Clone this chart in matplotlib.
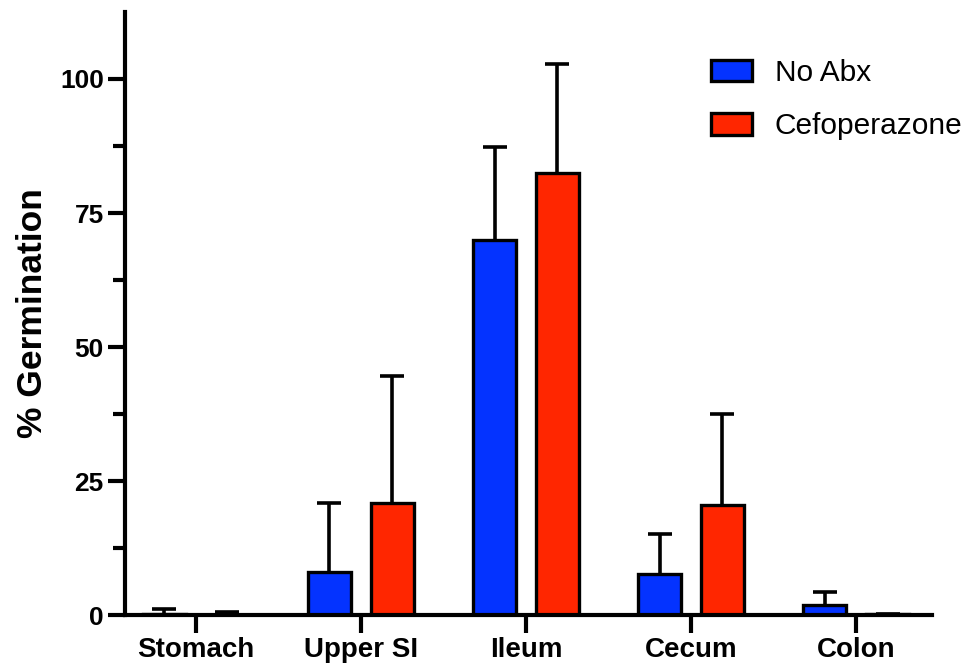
import numpy as np
import matplotlib.pyplot as plt

plt.rcParams['font.family'] = ['Liberation Sans', 'DejaVu Sans']

regioes = ['Stomach', 'Upper SI', 'Ileum', 'Cecum', 'Colon']
no_abx = [0.3, 8.0, 70.0, 7.6, 1.8]
no_abx_sd = [0.8, 12.9, 17.3, 7.5, 2.5]
cefo = [0.1, 20.9, 82.5, 20.5, 0.2]
cefo_sd = [0.5, 23.7, 20.3, 17.1, 0.1]

azul = '#0433FF'
vermelho = '#FF2600'

x = np.arange(len(regioes))
w = 0.26
off = 0.19

fig = plt.figure(figsize=(9.74, 6.65), dpi=100)
ax = fig.add_axes([0.128, 0.075, 0.829, 0.907])

# barras de erro só para cima, desenhadas por baixo das barras
zeros = np.zeros(len(x))
for pos, m, sd in [(x - off, no_abx, no_abx_sd), (x + off, cefo, cefo_sd)]:
    eb = ax.errorbar(pos, m, yerr=[zeros, sd], fmt='none', ecolor='black',
                     elinewidth=2.6, capsize=8.5, capthick=2.6, zorder=1)
    # esconder o cap de baixo (fica no topo da barra)
    eb[1][0].set_visible(False)

ax.bar(x - off, no_abx, w, color=azul, edgecolor='black', linewidth=2.4,
       label='No Abx', zorder=2)
ax.bar(x + off, cefo, w, color=vermelho, edgecolor='black', linewidth=2.4,
       label='Cefoperazone', zorder=2)

ax.set_xlim(-0.43, 4.46)
ax.set_ylim(0, 112.5)
ax.set_yticks([0, 25, 50, 75, 100])
ax.set_yticks(np.arange(12.5, 112.5, 25), minor=True)
ax.set_xticks(x)
ax.set_xticklabels(regioes, fontsize=20, fontweight='bold')
ax.tick_params(axis='y', which='major', length=12, width=3, labelsize=19, pad=3)
ax.tick_params(axis='y', which='minor', length=9, width=3)
ax.tick_params(axis='x', length=13, width=3, pad=3)
for lab in ax.get_yticklabels():
    lab.set_fontweight('bold')

for s in ['top', 'right']:
    ax.spines[s].set_visible(False)
for s in ['left', 'bottom']:
    ax.spines[s].set_linewidth(3)

ax.set_ylabel('% Germination', fontsize=25.5, fontweight='bold', labelpad=8)

leg = ax.legend(loc='upper left', bbox_to_anchor=(711 / 974, 1 - 59 / 665),
                bbox_transform=fig.transFigure, frameon=False, fontsize=21.5,
                handlelength=1.38, handleheight=0.72, handletextpad=0.75,
                labelspacing=0.85, borderpad=0, borderaxespad=0)
for p in leg.get_patches():
    p.set_linewidth(2.4)

fig.savefig('out.png', dpi=100)
